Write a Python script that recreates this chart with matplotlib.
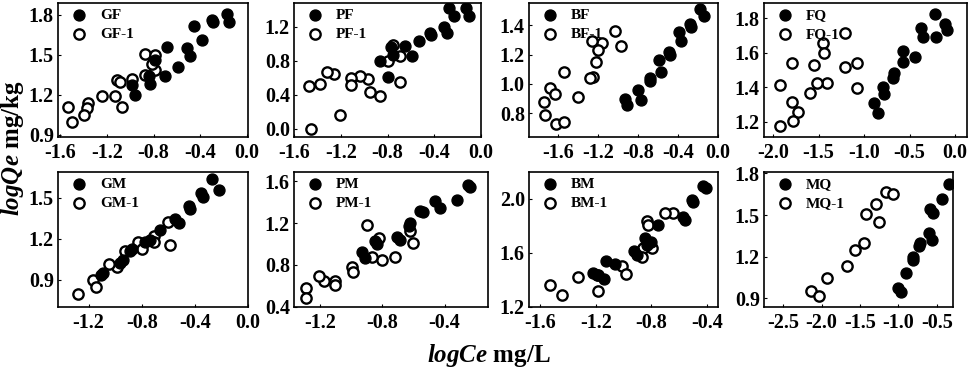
import matplotlib
matplotlib.use('Agg')
import matplotlib.pyplot as plt

# ---- data ----
gf_x = [-0.17, -0.155, -0.30, -0.29, -0.456, -0.384, -0.513, -0.485, -0.59, -0.685, -0.70, -0.786, -0.843, -0.83, -0.986, -0.958]
gf_y = [1.81, 1.75, 1.76, 1.745, 1.72, 1.61, 1.55, 1.49, 1.41, 1.56, 1.34, 1.46, 1.34, 1.28, 1.275, 1.20]
gf1_x = [-0.872, -0.786, -0.786, -0.81, -0.87, -0.986, -1.116, -1.09, -1.13, -1.07, -1.245, -1.36, -1.375, -1.40, -1.53, -1.50]
gf1_y = [1.51, 1.50, 1.39, 1.43, 1.35, 1.32, 1.31, 1.30, 1.19, 1.11, 1.19, 1.14, 1.10, 1.05, 1.11, 1.00]

pf_x = [-0.271, -0.229, -0.129, -0.10, -0.314, -0.294, -0.437, -0.43, -0.531, -0.646, -0.594, -0.766, -0.751, -0.866, -0.794]
pf_y = [1.42, 1.33, 1.42, 1.33, 1.20, 1.13, 1.13, 1.10, 1.03, 0.97, 0.86, 0.96, 0.87, 0.80, 0.61]
pf1_x = [-0.751, -0.794, -0.694, -0.694, -0.866, -0.951, -0.971, -1.037, -1.109, -1.109, -1.209, -1.257, -1.317, -1.38, -1.474, -1.451]
pf1_y = [0.99, 0.80, 0.86, 0.55, 0.38, 0.43, 0.58, 0.62, 0.60, 0.51, 0.16, 0.64, 0.67, 0.53, 0.50, -0.01]

bf_x = [-0.177, -0.143, -0.283, -0.267, -0.393, -0.367, -0.49, -0.477, -0.593, -0.567, -0.683, -0.677, -0.80, -0.767, -0.927, -0.91]
bf_y = [1.507, 1.46, 1.41, 1.39, 1.35, 1.29, 1.22, 1.20, 1.16, 1.08, 1.04, 1.02, 0.96, 0.89, 0.90, 0.86]
bf1_x = [-1.027, -0.967, -1.16, -1.26, -1.20, -1.223, -1.25, -1.283, -1.40, -1.54, -1.683, -1.633, -1.74, -1.733, -1.623, -1.54]
bf1_y = [1.36, 1.26, 1.28, 1.29, 1.23, 1.15, 1.05, 1.04, 0.91, 1.08, 0.97, 0.93, 0.88, 0.79, 0.73, 0.74]

fq_x = [-0.22, -0.11, -0.092, -0.21, -0.374, -0.348, -0.44, -0.575, -0.568, -0.67, -0.678, -0.788, -0.78, -0.89, -0.853]
fq_y = [1.826, 1.768, 1.733, 1.694, 1.743, 1.69, 1.578, 1.613, 1.549, 1.481, 1.456, 1.40, 1.36, 1.306, 1.252]
fq1_x = [-1.073, -1.209, -1.209, -1.08, -1.447, -1.44, -1.41, -1.52, -1.546, -1.593, -1.795, -1.923, -1.795, -1.722, -1.784, -1.923]
fq1_y = [1.394, 1.714, 1.52, 1.543, 1.66, 1.60, 1.427, 1.427, 1.53, 1.365, 1.543, 1.413, 1.316, 1.258, 1.206, 1.175]

gm_x = [-0.274, -0.217, -0.354, -0.335, -0.445, -0.438, -0.519, -0.55, -0.661, -0.74, -0.776, -0.874, -0.886, -0.96, -0.943, -1.095, -1.107]
gm_y = [1.637, 1.559, 1.534, 1.51, 1.437, 1.417, 1.315, 1.344, 1.261, 1.193, 1.18, 1.124, 1.107, 1.022, 1.046, 0.949, 0.937]
gm1_x = [-0.60, -0.585, -0.71, -0.71, -0.825, -0.80, -0.923, -0.984, -1.046, -1.163, -1.144, -1.278]
gm1_y = [1.32, 1.156, 1.222, 1.173, 1.173, 1.124, 1.107, 0.993, 1.017, 0.895, 0.844, 0.798]

pm_x = [-0.247, -0.236, -0.318, -0.461, -0.429, -0.558, -0.54, -0.622, -0.626, -0.707, -0.69, -0.847, -0.836, -0.932, -0.911]
pm_y = [1.57, 1.547, 1.426, 1.41, 1.346, 1.313, 1.304, 1.201, 1.17, 1.067, 1.035, 1.025, 1.003, 0.919, 0.865]
pm1_x = [-0.90, -0.821, -0.804, -0.868, -0.718, -0.605, -0.622, -0.997, -0.99, -1.104, -1.108, -1.179, -1.211, -1.29, -1.29]
pm1_y = [1.185, 1.057, 0.849, 0.88, 0.88, 1.009, 1.121, 0.778, 0.73, 0.65, 0.608, 0.647, 0.695, 0.576, 0.48]

bm_x = [-0.43, -0.406, -0.504, -0.497, -0.569, -0.561, -0.749, -0.845, -0.804, -0.833, -0.921, -0.904, -1.125, -1.06, -1.221, -1.192, -1.137]
bm_y = [2.10, 2.083, 1.991, 1.976, 1.867, 1.847, 1.809, 1.71, 1.678, 1.66, 1.618, 1.586, 1.543, 1.518, 1.449, 1.436, 1.411]
bm1_x = [-0.646, -0.70, -0.833, -0.821, -0.797, -0.857, -0.869, -1.012, -0.981, -1.18, -1.18, -1.324, -1.439, -1.528]
bm1_y = [1.90, 1.90, 1.834, 1.809, 1.635, 1.635, 1.568, 1.503, 1.441, 1.436, 1.317, 1.419, 1.287, 1.362]

mq_x = [-0.34, -0.439, -0.591, -0.548, -0.60, -0.569, -0.721, -0.73, -0.816, -0.807, -0.903, -1.002, -0.972]
mq_y = [1.723, 1.612, 1.54, 1.516, 1.368, 1.32, 1.296, 1.276, 1.20, 1.176, 1.08, 0.977, 0.948]
mq1_x = [-1.162, -1.076, -1.292, -1.426, -1.249, -1.444, -1.565, -1.673, -1.924, -2.136, -2.032]
mq1_y = [1.667, 1.648, 1.579, 1.504, 1.452, 1.30, 1.248, 1.133, 1.044, 0.955, 0.919]

names = ['GF', 'PF', 'BF', 'FQ', 'GM', 'PM', 'BM', 'MQ']

plt.rcParams['font.family'] = 'Liberation Serif'
plt.rcParams['font.weight'] = 'bold'
plt.rcParams['mathtext.fontset'] = 'custom'
plt.rcParams['mathtext.it'] = 'Liberation Serif:italic:bold'
plt.rcParams['mathtext.rm'] = 'Liberation Serif:bold'

W, H = 969, 370
fig = plt.figure(figsize=(W / 100, H / 100), dpi=100)

# panel boxes in pixels: left, right, top, bottom
boxes = [(58, 248, 3, 137), (294, 481, 3, 137), (529, 718, 3, 137), (764, 967, 3, 137),
         (58, 248, 172, 307), (294, 488, 172, 307), (529, 718, 172, 307), (764, 953, 172, 307)]

panels = [
    (gf_x, gf_y, gf1_x, gf1_y, (-1.62, 0.01), (0.885, 1.89), [-1.6, -1.2, -0.8, -0.4, 0.0], [0.9, 1.2, 1.5, 1.8]),
    (pf_x, pf_y, pf1_x, pf1_y, (-1.60, 0.0), (-0.10, 1.48), [-1.6, -1.2, -0.8, -0.4, 0.0], [0.0, 0.4, 0.8, 1.2]),
    (bf_x, bf_y, bf1_x, bf1_y, (-1.89, 0.0), (0.64, 1.55), [-1.6, -1.2, -0.8, -0.4, 0.0], [0.8, 1.0, 1.2, 1.4]),
    (fq_x, fq_y, fq1_x, fq1_y, (-2.10, 0.13), (1.11, 1.89), [-2.0, -1.5, -1.0, -0.5, 0.0], [1.2, 1.4, 1.6, 1.8]),
    (gm_x, gm_y, gm1_x, gm1_y, (-1.43, 0.0), (0.70, 1.69), [-1.2, -0.8, -0.4, 0.0], [0.9, 1.2, 1.5]),
    (pm_x, pm_y, pm1_x, pm1_y, (-1.37, -0.12), (0.397, 1.69), [-1.2, -0.8, -0.4], [0.4, 0.8, 1.2, 1.6]),
    (bm_x, bm_y, bm1_x, bm1_y, (-1.68, -0.32), (1.2, 2.2), [-1.6, -1.2, -0.8, -0.4], [1.2, 1.6, 2.0]),
    (mq_x, mq_y, mq1_x, mq1_y, (-2.75, -0.29), (0.837, 1.81), [-2.5, -2.0, -1.5, -1.0, -0.5], [0.9, 1.2, 1.5, 1.8]),
]

for name, box, p in zip(names, boxes, panels):
    l, r, t, b = box
    ax = fig.add_axes([l / W, 1 - b / H, (r - l) / W, (b - t) / H])
    x, y, x1, y1, xl, yl, xt, yt = p
    ax.scatter(x, y, s=62, c='black', edgecolors='black', linewidths=1.0, label=name, zorder=3)
    ax.scatter(x1, y1, s=55, facecolors='white', edgecolors='black', linewidths=1.7, label=name + '-1', zorder=2)
    ax.set_xlim(xl)
    ax.set_ylim(yl)
    ax.set_xticks(xt)
    ax.set_yticks(yt)
    ax.set_xticklabels(['%.1f' % v for v in xt])
    ax.set_yticklabels(['%.1f' % v for v in yt])
    ax.tick_params(direction='in', length=2.5, width=0.8, labelsize=14.5)
    ax.tick_params(axis='x', pad=4)
    ax.tick_params(axis='y', pad=3)
    for lab in ax.get_xticklabels() + ax.get_yticklabels():
        lab.set_fontweight('bold')
    for sp in ax.spines.values():
        sp.set_linewidth(1.2)
    ax.legend(loc='upper left', frameon=False, borderaxespad=0.05,
              handletextpad=0.4, labelspacing=0.35, borderpad=0.3,
              prop={'weight': 'bold', 'size': 11})

fig.text(0.013, 0.6, '$logQe$ mg/kg', rotation=90, ha='center', va='center',
         fontsize=18, fontweight='bold')
fig.text(0.505, 0.04, '$logCe$ mg/L', ha='center', va='center',
         fontsize=18, fontweight='bold')

fig.savefig('out.png', dpi=100)
